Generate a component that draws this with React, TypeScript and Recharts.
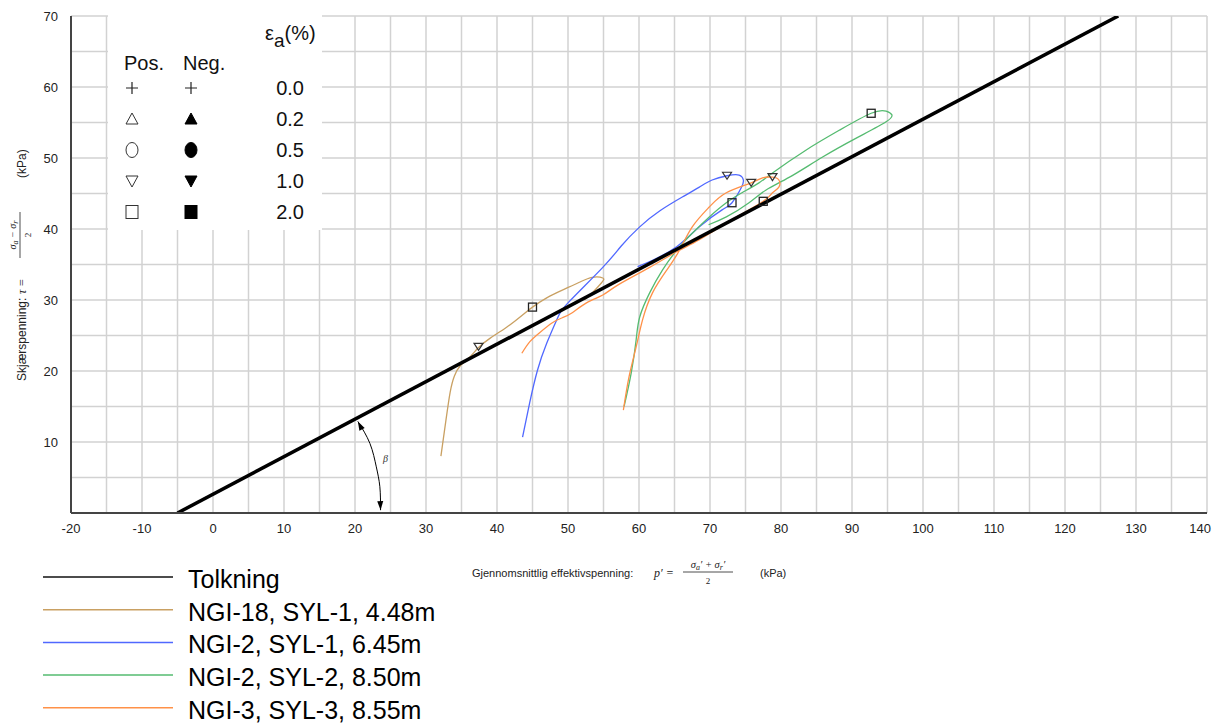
import React from "react";
import { CartesianGrid, ComposedChart, Line, XAxis, YAxis } from "recharts";

const FONT = '"Liberation Sans", Arial, sans-serif';
const SERIF = '"Liberation Serif", "DejaVu Serif", serif';

const xTicks = [-20, -15, -10, -5, 0, 5, 10, 15, 20, 25, 30, 35, 40, 45, 50, 55, 60, 65, 70, 75, 80, 85, 90, 95, 100, 105, 110, 115, 120, 125, 130, 135, 140];
const yTicks = [0, 5, 10, 15, 20, 25, 30, 35, 40, 45, 50, 55, 60, 65, 70];

// Tolkning (interpretation line)
const tolkP = [-5, 127.5];
const tolkTau = [0, 70];

// NGI-18, SYL-1, 4.48m
const tanP = [32.1, 32.8, 33.4, 34.0, 34.8, 36.0, 37.4, 39.0, 41.4, 43.6, 45.0, 47.0, 49.2, 51.6, 53.4, 54.9, 54.7, 53.4, 52.3];
const tanTau = [8.0, 13.0, 17.0, 19.3, 20.7, 21.8, 23.3, 24.6, 26.2, 27.9, 29.0, 30.3, 31.4, 32.5, 33.2, 33.1, 32.4, 31.0, 30.0];

// NGI-2, SYL-1, 6.45m
const blueP = [43.6, 44.6, 45.7, 47.0, 48.5, 50.2, 54.9, 57.5, 60.1, 63.0, 66.1, 68.5, 70.3, 72.4, 74.1, 74.7, 74.4, 73.1, 71.7, 68.5, 65.3, 61.9, 59.8];
const blueTau = [10.7, 15.5, 20.1, 23.9, 27.4, 29.8, 34.6, 37.6, 40.3, 42.6, 44.5, 45.9, 46.9, 47.5, 47.6, 46.9, 45.8, 43.7, 42.7, 40.3, 37.5, 35.6, 34.7];

// NGI-2, SYL-2, 8.50m
const greenP = [57.9, 58.9, 59.6, 60.1, 61.5, 63.3, 65.3, 67.5, 69.9, 72.3, 74.5, 76.9, 78.8, 83.5, 88.2, 92.7, 94.8, 95.6, 94.8, 90.6, 85.8, 81.2, 77.9, 75.5, 72.3, 69.8];
const greenTau = [15.0, 19.7, 24.4, 27.6, 31.0, 34.2, 37.0, 39.4, 41.7, 43.7, 45.1, 46.5, 47.9, 51.1, 53.9, 56.3, 56.6, 56.1, 55.1, 52.8, 50.1, 47.3, 45.5, 43.7, 41.7, 40.6];

// NGI-3, SYL-3, 8.55m
const orangeP = [57.8, 58.6, 59.6, 60.5, 61.9, 63.9, 65.7, 67.5, 69.9, 72.3, 75.8, 77.4, 78.8, 79.7, 79.7, 78.8, 77.5, 73.1, 68.5, 65.3, 61.5, 57.0, 54.9, 52.6, 50.6, 49.2, 47.8, 46.0, 44.6, 43.5];
const orangeTau = [14.5, 19.2, 23.4, 27.2, 31.0, 34.2, 37.0, 40.3, 43.1, 45.1, 46.5, 47.2, 47.3, 46.9, 45.9, 45.1, 43.9, 41.3, 38.5, 36.8, 34.6, 32.1, 30.7, 29.6, 28.2, 27.5, 26.8, 25.4, 24.1, 22.5];

// strain markers (1.0 % and 2.0 %)
const triP = [37.4, 72.4, 75.8, 78.8];
const triTau = [23.4, 47.5, 46.5, 47.3];
const sqP = [45.0, 73.1, 92.7, 77.5];
const sqTau = [29.0, 43.7, 56.3, 43.9];

// beta angle arc
const arcP = [20.4, 22.1, 23.0, 23.5, 23.6];
const arcTau = [12.9, 9.8, 6.5, 3.7, 0.4];

const seriesNames = ["Tolkning", "NGI-18, SYL-1, 4.48m", "NGI-2, SYL-1, 6.45m", "NGI-2, SYL-2, 8.50m", "NGI-3, SYL-3, 8.55m"];
const seriesColors = ["#111111", "#c9a062", "#5068ff", "#55bb70", "#ff9148"];
const strainLabels = ["0.0", "0.2", "0.5", "1.0", "2.0"];
const symbolKinds = ["plus", "triUp", "circle", "triDown", "square"];

const zip = (p: number[], t: number[]) => p.map((x, i) => ({ x, y: t[i] }));

const TriDot = (props: any) => {
  const { cx, cy } = props;
  if (cx == null || cy == null) return null;
  return <polygon points={`${cx - 4.5},${cy - 3.5} ${cx + 4.5},${cy - 3.5} ${cx},${cy + 3.5}`} fill="none" stroke="#333" strokeWidth={1.2} />;
};

const SqDot = (props: any) => {
  const { cx, cy } = props;
  if (cx == null || cy == null) return null;
  return <rect x={cx - 4} y={cy - 4} width={8} height={8} fill="none" stroke="#222" strokeWidth={1.3} />;
};

const ArrowDot = (props: any) => {
  const { cx, cy, index } = props;
  if (cx == null || cy == null) return null;
  if (index !== 0 && index !== arcP.length - 1) return null;
  const angle = index === 0 ? -118 : 88;
  return <path d="M0,0 L-9,-3 L-9,3 Z" fill="#000" transform={`translate(${cx},${cy}) rotate(${angle})`} />;
};

const XTick = (props: any) => {
  const { x, y, payload } = props;
  const v = payload.value;
  if (v % 10 !== 0) return null;
  const last = v === xTicks[xTicks.length - 1];
  return (
    <text x={last ? x + 4 : x} y={y} dy="0.71em" textAnchor={last ? "end" : "middle"} fontSize={13} fill="#222" fontFamily={FONT}>
      {v}
    </text>
  );
};

function symbol(kind: string, filled: boolean, cx: number, cy: number) {
  const fill = filled ? "#000" : "none";
  const stroke = filled ? "#000" : "#333";
  switch (kind) {
    case "plus":
      return <path d={`M${cx - 6},${cy} H${cx + 6} M${cx},${cy - 6} V${cy + 6}`} stroke="#222" strokeWidth={1.2} fill="none" />;
    case "triUp":
      return <polygon points={`${cx},${cy - 6} ${cx + 6},${cy + 5} ${cx - 6},${cy + 5}`} fill={fill} stroke={stroke} strokeWidth={1} />;
    case "circle":
      return <ellipse cx={cx} cy={cy} rx={6} ry={7.5} fill={fill} stroke={stroke} strokeWidth={1} />;
    case "triDown":
      return <polygon points={`${cx - 6},${cy - 5} ${cx + 6},${cy - 5} ${cx},${cy + 6}`} fill={fill} stroke={stroke} strokeWidth={1} />;
    default:
      return <rect x={cx - 6} y={cy - 6.5} width={12} height={13} fill={fill} stroke={stroke} strokeWidth={1} />;
  }
}

function Overlay() {
  return (
    <svg width={1214} height={723} style={{ position: "absolute", left: 0, top: 0, pointerEvents: "none" }}>
      {/* strain symbol key */}
      <g fontFamily={FONT} fill="#111">
        <rect x={108} y={14} width={214} height={216} fill="#fff" />
        <text x={265} y={40} fontSize={20}>
          ε<tspan fontSize={19} dy={7}>a</tspan>
          <tspan dy={-7}>(%)</tspan>
        </text>
        <text x={124} y={70} fontSize={20}>Pos.</text>
        <text x={183} y={70} fontSize={20}>Neg.</text>
        {strainLabels.map((s, i) => (
          <g key={s}>
            {symbol(symbolKinds[i], false, 132, 88 + i * 31)}
            {symbol(symbolKinds[i], true, 191, 88 + i * 31)}
            <text x={304} y={95 + i * 31} textAnchor="end" fontSize={20}>{s}</text>
          </g>
        ))}
      </g>

      {/* y axis title */}
      <g transform="rotate(-90)" fill="#222">
        <text x={-381} y={26} fontSize={12} fontFamily={FONT}>Skjærspenning:</text>
        <text x={-294} y={26} fontSize={12} fontFamily={SERIF} fontStyle="italic">τ =</text>
        <text x={-235} y={16} fontSize={10} fontFamily={SERIF} fontStyle="italic" textAnchor="middle">
          σ<tspan fontSize={8} dy={2}>a</tspan><tspan dy={-2}> − σ</tspan><tspan fontSize={8} dy={2}>r</tspan>
        </text>
        <line x1={-258} x2={-212} y1={20} y2={20} stroke="#222" strokeWidth={0.8} />
        <text x={-235} y={31} fontSize={9} fontFamily={SERIF} textAnchor="middle">2</text>
        <text x={-178} y={26} fontSize={12} fontFamily={FONT}>(kPa)</text>
      </g>

      {/* x axis title */}
      <g fill="#222">
        <text x={472} y={577} fontSize={11} fontFamily={FONT}>Gjennomsnittlig effektivspenning:</text>
        <text x={654} y={577} fontSize={12} fontFamily={SERIF} fontStyle="italic">p′ =</text>
        <text x={708} y={568} fontSize={10.5} fontFamily={SERIF} fontStyle="italic" textAnchor="middle">
          σ<tspan fontSize={8} dy={2}>a</tspan><tspan dy={-2}>′ + σ</tspan><tspan fontSize={8} dy={2}>r</tspan><tspan dy={-2}>′</tspan>
        </text>
        <line x1={683} x2={733} y1={572} y2={572} stroke="#222" strokeWidth={0.8} />
        <text x={708} y={584} fontSize={9} fontFamily={SERIF} textAnchor="middle">2</text>
        <text x={760} y={577} fontSize={11} fontFamily={FONT}>(kPa)</text>
      </g>

      <text x={383} y={462} fontSize={10} fontFamily={SERIF} fontStyle="italic" fill="#333">β</text>

      {/* series legend */}
      <g fontFamily={FONT} fill="#000">
        {seriesNames.map((name, i) => (
          <g key={name}>
            <line x1={43} x2={173} y1={577 + i * 32.7} y2={577 + i * 32.7} stroke={seriesColors[i]} strokeWidth={1.5} />
            <text x={188} y={588 + i * 32.7} fontSize={25}>{name}</text>
          </g>
        ))}
      </g>
    </svg>
  );
}

export default function App() {
  const curves = [
    { p: tanP, t: tanTau, c: seriesColors[1] },
    { p: blueP, t: blueTau, c: seriesColors[2] },
    { p: greenP, t: greenTau, c: seriesColors[3] },
    { p: orangeP, t: orangeTau, c: seriesColors[4] },
  ];
  return (
    <div style={{ position: "absolute", left: 0, top: 0, width: 1214, height: 723, background: "#fff" }}>
      <ComposedChart width={1214} height={723} margin={{ top: 16, right: 7, bottom: 180, left: 0 }} style={{ fontFamily: FONT }}>
        <CartesianGrid stroke="#d2d2d2" strokeWidth={1.5} />
        <XAxis
          dataKey="x"
          type="number"
          domain={[-20, 140]}
          allowDataOverflow
          ticks={xTicks}
          interval={0}
          height={30}
          tickSize={0}
          tickMargin={11}
          tick={<XTick />}
          axisLine={{ stroke: "#444", strokeWidth: 2 }}
          tickLine={false}
        />
        <YAxis
          type="number"
          domain={[0, 70]}
          allowDataOverflow
          ticks={yTicks}
          interval={0}
          width={71}
          tickSize={0}
          tickMargin={13}
          tickFormatter={(v) => (v % 10 === 0 && v !== 0 ? String(v) : "")}
          tick={{ fontSize: 13, fill: "#222" }}
          axisLine={{ stroke: "#444", strokeWidth: 2 }}
          tickLine={false}
        />
        {curves.map((s, i) => (
          <Line
            key={i}
            data={zip(s.p, s.t)}
            dataKey="y"
            type="natural"
            stroke={s.c}
            strokeWidth={1.3}
            dot={false}
            activeDot={false}
            isAnimationActive={false}
          />
        ))}
        <Line data={zip(tolkP, tolkTau)} dataKey="y" type="linear" stroke="#000" strokeWidth={3.5} dot={false} activeDot={false} isAnimationActive={false} />
        <Line data={zip(arcP, arcTau)} dataKey="y" type="natural" stroke="#000" strokeWidth={1} dot={<ArrowDot />} activeDot={false} isAnimationActive={false} />
        <Line data={zip(triP, triTau)} dataKey="y" stroke="none" dot={<TriDot />} activeDot={false} isAnimationActive={false} />
        <Line data={zip(sqP, sqTau)} dataKey="y" stroke="none" dot={<SqDot />} activeDot={false} isAnimationActive={false} />
      </ComposedChart>
      <Overlay />
    </div>
  );
}
